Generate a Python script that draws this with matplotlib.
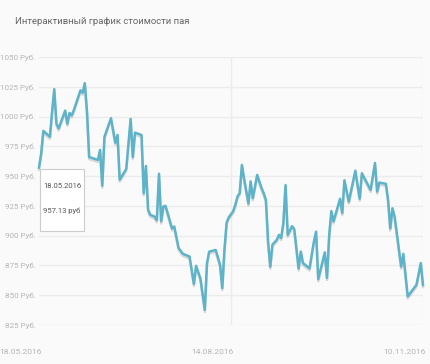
import numpy as np
import pandas as pd
import matplotlib
matplotlib.use("Agg")
import matplotlib.pyplot as plt
import matplotlib.patheffects as pe
import matplotlib.transforms as mtransforms

# дни от 18.05.2016 и стоимость пая (руб.)
days = [0, 1, 2, 5, 6, 7, 8, 9, 12, 13, 14, 15, 16, 19, 20, 21, 22, 23, 27, 28,
        29, 30, 33, 35, 36, 37, 40, 42, 43, 44, 47, 48, 49, 50, 51, 53, 54, 55, 56, 57,
        58, 61, 62, 64, 66, 69, 71, 72, 74, 76, 77, 78, 81, 83, 84, 85, 86, 87, 89, 90,
        91, 92, 93, 94, 96, 97, 98, 100, 102, 103, 104, 105, 106, 107, 109, 110, 111, 112, 113, 114,
        116, 117, 119, 120, 121, 124, 126, 127, 128, 131, 132, 133, 134, 135, 138, 139, 140, 142, 145, 147,
        148, 152, 154, 155, 156, 159, 160, 161, 162, 163, 166, 167, 169, 173, 175, 176]
prices = [957.13, 969, 988, 983, 1004, 1023, 994, 990, 1005, 994, 1003, 1001, 1005.5, 1022, 1020, 1028, 1004, 966, 963.6, 972,
          942, 983, 998.6, 978, 984.5, 947, 956, 998, 966, 986.5, 984.5, 935.6, 958.5, 922, 917.5, 916, 913, 952, 912, 924.5,
          925, 906, 907.7, 889.5, 884.7, 882.5, 859.5, 874.7, 864, 837.7, 877, 886.6, 888, 875.5, 856, 888, 911, 915.5, 920.5, 926,
          933, 935.6, 959.4, 948, 927, 945.6, 931.5, 951, 940, 935.6, 930, 895, 874, 892.5, 896.5, 900.7, 898, 910.5, 942.5, 900.7,
          908, 905.5, 872.5, 886.7, 877, 872.5, 895, 903.4, 863.5, 886, 864.5, 900, 920.6, 912, 931, 919, 946.5, 928.6, 954.6, 931,
          952.4, 938.4, 961, 937, 944.6, 943.5, 930, 906, 923, 916, 874, 884.7, 849, 858.7, 877, 858.7]

start = pd.Timestamp("2016-05-18")
dates = start + pd.to_timedelta(days, unit="D")
tick_dates = ["18.05.2016", "14.08.2016", "10.11.2016"]
y_ticks = [825, 850, 875, 900, 925, 950, 975, 1000, 1025, 1050]

plt.rcParams["font.family"] = ["Roboto", "DejaVu Sans"]

fig = plt.figure(figsize=(4.3, 3.64), dpi=100, facecolor="#fafafa")
ax = fig.add_axes([0.0907, 0.1071, 0.893, 0.7363], facecolor="#fafafa")

ax.plot(dates, prices, color="#5db3c9", lw=1.8, clip_on=False, zorder=3,
        path_effects=[pe.SimpleLineShadow(offset=(0, -1.5), shadow_color="#777777", alpha=0.25),
                      pe.Normal()])

tick_pos = [pd.to_datetime(t, format="%d.%m.%Y") for t in tick_dates]
ax.set_xlim(tick_pos[0], tick_pos[-1])
ax.set_ylim(825, 1050)
ax.set_yticks(y_ticks)
ax.set_yticklabels([f"{v} Руб." for v in y_ticks])
ax.set_xticks(tick_pos)
ax.set_xticklabels(tick_dates, ha="right")
ax.tick_params(axis="y", length=0, pad=2.5, labelsize=5.8, labelcolor="#b5b5b5")
ax.tick_params(axis="x", length=0, pad=17, labelsize=6, labelcolor="#b5b5b5")
# подписи дат чуть правее отметки
off = mtransforms.ScaledTranslation(3 / 100, 0, fig.dpi_scale_trans)
for lab in ax.get_xticklabels():
    lab.set_transform(lab.get_transform() + off)

ax.grid(axis="y", color="#ececec", lw=1)
for t in tick_pos[1:]:
    ax.axvline(t, color="#ececec", lw=1, zorder=0)
for s in ax.spines.values():
    s.set_visible(False)

fig.text(15 / 430, 1 - 22 / 364, "Интерактивный график стоимости пая",
         fontsize=6.8, color="#666666", va="center", ha="left")

# всплывающая подсказка
box = plt.Rectangle((40 / 430, 1 - 231 / 364), 44 / 430, 62 / 364, transform=fig.transFigure,
                    facecolor="white", edgecolor="#cccccc", lw=0.8, zorder=5)
fig.patches.append(box)
fig.text(43 / 430, 1 - 186 / 364, tick_dates[0], fontsize=5.5, color="#555555", va="center", zorder=6)
fig.text(43 / 430, 1 - 211 / 364, f"{prices[0]:.2f} руб", fontsize=5.5, color="#555555", va="center", zorder=6)

fig.savefig("out.png", dpi=100, facecolor=fig.get_facecolor())
